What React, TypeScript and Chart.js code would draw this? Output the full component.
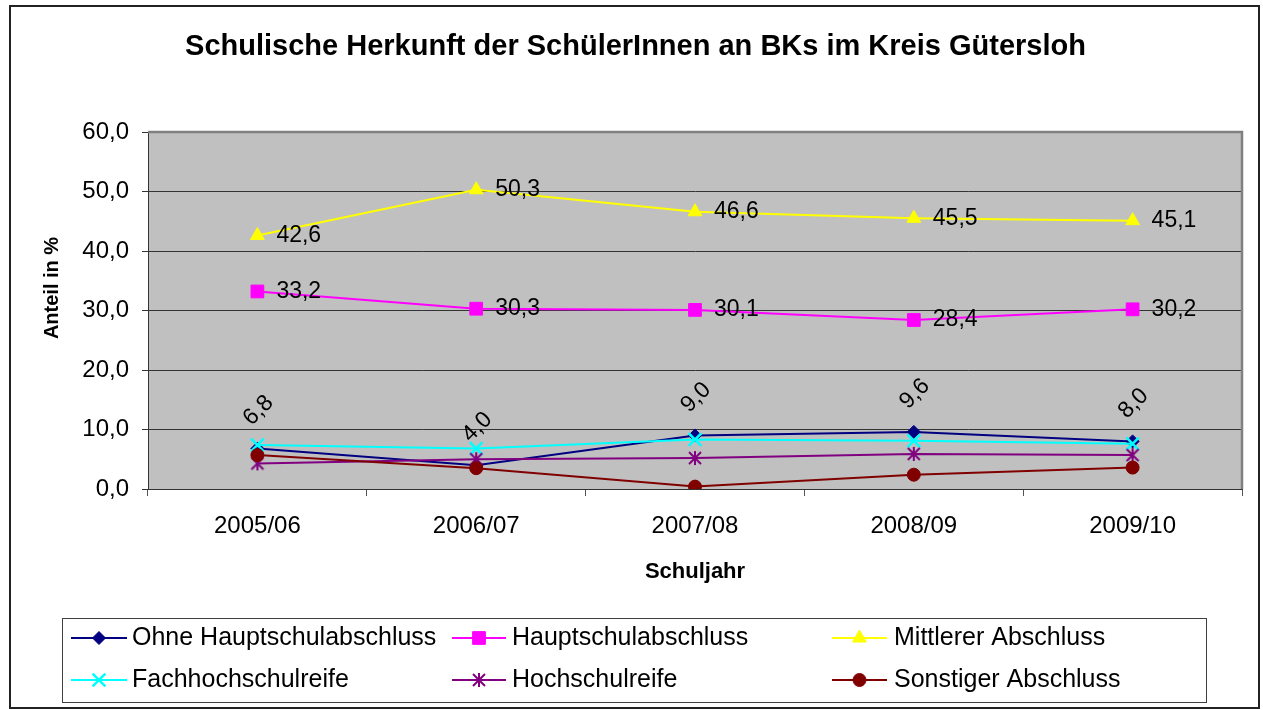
import React, { useEffect, useRef } from 'react';
import { Chart, registerables } from 'chart.js';
import { drawPoint } from 'chart.js/helpers';

Chart.register(...registerables);

const categories = ['2005/06', '2006/07', '2007/08', '2008/09', '2009/10'];
const seriesNames = [
  'Ohne Hauptschulabschluss',
  'Hauptschulabschluss',
  'Mittlerer Abschluss',
  'Fachhochschulreife',
  'Hochschulreife',
  'Sonstiger Abschluss',
];
const ohneHauptschulabschluss = [6.8, 4.0, 9.0, 9.6, 8.0];
const hauptschulabschluss = [33.2, 30.3, 30.1, 28.4, 30.2];
const mittlererAbschluss = [42.6, 50.3, 46.6, 45.5, 45.1];
const fachhochschulreife = [7.4, 6.8, 8.3, 8.1, 7.6];
const hochschulreife = [4.3, 5.0, 5.2, 5.9, 5.7];
const sonstigerAbschluss = [5.7, 3.5, 0.4, 2.4, 3.6];
const yTickValues = [0, 10, 20, 30, 40, 50, 60];

const titleText = 'Schulische Herkunft der SchülerInnen an BKs im Kreis Gütersloh';
const xTitleText = 'Schuljahr';
const yTitleText = 'Anteil in %';

const FONT = '"Liberation Sans", Arial, Helvetica, sans-serif';
const fmt = (v: number) => v.toFixed(1).replace('.', ',');

function makeAsterisk(color: string) {
  const size = 18;
  const c = document.createElement('canvas');
  c.width = size;
  c.height = size;
  const g = c.getContext('2d')!;
  g.strokeStyle = color;
  g.lineWidth = 2;
  const m = size / 2;
  const r = 7;
  const d = 6;
  g.beginPath();
  g.moveTo(m, m - r);
  g.lineTo(m, m + r);
  g.moveTo(m - d, m - d);
  g.lineTo(m + d, m + d);
  g.moveTo(m - d, m + d);
  g.lineTo(m + d, m - d);
  g.stroke();
  return c;
}

const backgroundPlugin = {
  id: 'bgPlot',
  beforeDraw(chart: any) {
    const { ctx, chartArea: a } = chart;
    ctx.save();
    ctx.fillStyle = '#ffffff';
    ctx.fillRect(0, 0, chart.width, chart.height);
    ctx.fillStyle = '#C0C0C0';
    ctx.fillRect(a.left, a.top, a.right - a.left, a.bottom - a.top);
    ctx.strokeStyle = '#222222';
    ctx.lineWidth = 2;
    ctx.strokeRect(10, 6, 1249, 702);
    ctx.restore();
  },
  beforeDatasetsDraw(chart: any) {
    const { ctx, chartArea: a } = chart;
    ctx.save();
    ctx.strokeStyle = '#808080';
    ctx.lineWidth = 2.5;
    ctx.beginPath();
    ctx.moveTo(a.left, a.top);
    ctx.lineTo(a.right, a.top);
    ctx.lineTo(a.right, a.bottom);
    ctx.stroke();
    ctx.restore();
  },
};

const valueLabelPlugin = {
  id: 'valueLabels',
  afterDatasetsDraw(chart: any) {
    const ctx = chart.ctx;
    ctx.save();
    ctx.font = `23px ${FONT}`;
    ctx.fillStyle = '#000000';
    const m0 = chart.getDatasetMeta(0);
    const v0 = chart.data.datasets[0].data;
    m0.data.forEach((pt: any, i: number) => {
      ctx.save();
      ctx.translate(pt.x + 1, pt.y - 38);
      ctx.rotate(-Math.PI / 4);
      ctx.textAlign = 'center';
      ctx.textBaseline = 'middle';
      ctx.fillText(fmt(v0[i]), 0, 0);
      ctx.restore();
    });
    [1, 2].forEach((di) => {
      const meta = chart.getDatasetMeta(di);
      const vals = chart.data.datasets[di].data;
      meta.data.forEach((pt: any, i: number) => {
        ctx.textAlign = 'left';
        ctx.textBaseline = 'middle';
        ctx.fillText(fmt(vals[i]), pt.x + 19, pt.y);
      });
    });
    ctx.restore();
  },
};

const legendPlugin = {
  id: 'boxLegend',
  afterDraw(chart: any) {
    const ctx = chart.ctx;
    ctx.save();
    ctx.strokeStyle = '#404040';
    ctx.lineWidth = 1;
    ctx.strokeRect(62.5, 618.5, 1144, 84);
    const cols = [
      { l0: 71, l1: 127, tx: 132 },
      { l0: 452, l1: 506, tx: 512 },
      { l0: 832, l1: 887, tx: 894 },
    ];
    const rows = [638, 680];
    chart.data.datasets.forEach((ds: any, i: number) => {
      const c = cols[i % 3];
      const y = rows[Math.floor(i / 3)];
      ctx.strokeStyle = ds.borderColor;
      ctx.lineWidth = 2;
      ctx.beginPath();
      ctx.moveTo(c.l0, y);
      ctx.lineTo(c.l1, y);
      ctx.stroke();
      ctx.fillStyle = ds.pointBackgroundColor;
      ctx.strokeStyle = ds.pointBorderColor;
      ctx.lineWidth = ds.pointBorderWidth;
      drawPoint(
        ctx,
        { pointStyle: ds.pointStyle, radius: ds.pointRadius, rotation: 0, borderWidth: ds.pointBorderWidth } as any,
        (c.l0 + c.l1) / 2,
        y
      );
      ctx.fillStyle = '#000000';
      ctx.font = `25px ${FONT}`;
      ctx.textAlign = 'left';
      ctx.textBaseline = 'middle';
      ctx.fillText(ds.label, c.tx, y);
    });
    // y axis title
    ctx.save();
    ctx.translate(52, 288);
    ctx.rotate(-Math.PI / 2);
    ctx.font = `bold 20px ${FONT}`;
    ctx.fillStyle = '#000000';
    ctx.textAlign = 'center';
    ctx.textBaseline = 'middle';
    ctx.fillText(yTitleText, 0, 0);
    ctx.restore();
    ctx.restore();
  },
};

export default function App() {
  const ref = useRef<HTMLCanvasElement>(null);

  useEffect(() => {
    if (!ref.current) return;
    const asterisk = makeAsterisk('#800080');
    const seriesValues = [
      ohneHauptschulabschluss,
      hauptschulabschluss,
      mittlererAbschluss,
      fachhochschulreife,
      hochschulreife,
      sonstigerAbschluss,
    ];
    const colors = ['#000080', '#FF00FF', '#FFFF00', '#00FFFF', '#800080', '#800000'];
    const styles: any[] = ['rectRot', 'rect', 'triangle', 'crossRot', asterisk, 'circle'];
    const radii = [6.5, 9, 8, 9, 9, 6.5];
    const pBorder = [1, 1, 1, 2.5, 1, 1];

    const datasets = seriesValues.map((vals, i) => ({
      label: seriesNames[i],
      data: vals,
      borderColor: colors[i],
      backgroundColor: colors[i],
      borderWidth: 2,
      pointStyle: styles[i],
      pointRadius: radii[i],
      pointHoverRadius: radii[i],
      pointBackgroundColor: colors[i],
      pointBorderColor: colors[i],
      pointBorderWidth: pBorder[i],
      fill: false,
      tension: 0,
      order: seriesValues.length - 1 - i,
    }));

    const chart = new Chart(ref.current, {
      type: 'line',
      data: { labels: categories, datasets },
      options: {
        responsive: false,
        animation: false,
        devicePixelRatio: 1,
        layout: { padding: { left: 8, right: 0, top: 0, bottom: 110 } },
        plugins: {
          legend: { display: false },
          tooltip: { enabled: false },
          title: {
            display: true,
            text: titleText,
            color: '#000000',
            font: { family: FONT, size: 29, weight: 'bold' },
            padding: { top: 30, bottom: 67.2 },
          },
        },
        scales: {
          x: {
            type: 'category',
            offset: true,
            grid: {
              offset: true,
              drawOnChartArea: false,
              drawTicks: true,
              tickLength: 7,
              color: '#555555',
            },
            border: { display: true, color: '#333333', width: 1 },
            ticks: {
              color: '#000000',
              font: { family: FONT, size: 24 },
              padding: 16,
              maxRotation: 0,
              autoSkip: false,
            },
            title: {
              display: true,
              text: xTitleText,
              color: '#000000',
              font: { family: FONT, size: 22, weight: 'bold' },
              padding: { top: 0, bottom: 15 },
            },
            afterFit: (s: any) => {
              s.height = 111;
            },
          },
          y: {
            type: 'linear',
            position: 'left',
            min: 0,
            max: 60,
            afterBuildTicks: (s: any) => {
              s.ticks = yTickValues.map((v) => ({ value: v }));
            },
            grid: {
              color: '#333333',
              lineWidth: 1,
              drawTicks: true,
              tickLength: 6,
            },
            border: { display: true, color: '#333333', width: 1 },
            ticks: {
              color: '#000000',
              font: { family: FONT, size: 24 },
              padding: 13,
              callback: (v: any) => fmt(Number(v)),
            },
            afterFit: (s: any) => {
              s.width = 140;
            },
          },
          yRight: {
            type: 'linear',
            position: 'right',
            display: true,
            grid: { display: false, drawTicks: false },
            border: { display: false },
            ticks: { display: false },
            afterFit: (s: any) => {
              s.width = 21;
            },
          },
        },
      },
      plugins: [backgroundPlugin, valueLabelPlugin, legendPlugin],
    } as any);

    return () => chart.destroy();
  }, []);

  return (
    <div style={{ position: 'absolute', left: 0, top: 0, width: 1263, height: 710 }}>
      <canvas ref={ref} width={1263} height={710} />
    </div>
  );
}
